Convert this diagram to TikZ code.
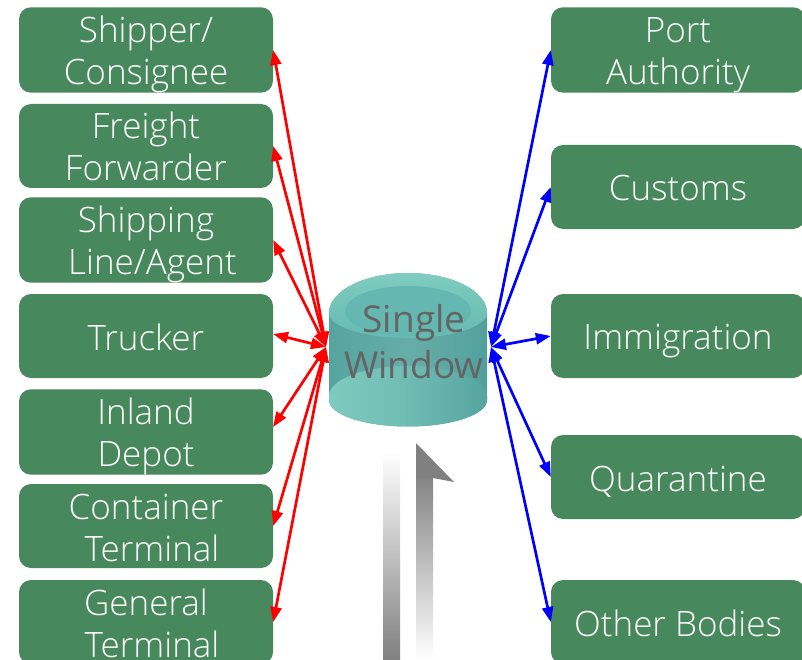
\documentclass[tikz,border=0pt]{standalone}
\usepackage{fontspec}
\setmainfont{Open Sans Light}
\newfontfamily\hubfont{Open Sans}
\usetikzlibrary{arrows.meta,shadings}
\setlength{\lineskiplimit}{-60pt}
\setlength{\normallineskiplimit}{-60pt}
\definecolor{boxgreen}{RGB}{71,136,92}
\definecolor{tealmid}{RGB}{86,164,160}
\definecolor{teallight}{RGB}{128,204,192}
\definecolor{tealdark}{RGB}{64,130,132}
\definecolor{tealtop}{RGB}{102,186,178}
\definecolor{labelgray}{RGB}{100,100,100}
\pgfdeclarehorizontalshading{cylside}{100bp}{color(0bp)=(tealmid); color(25bp)=(tealmid); color(50bp)=(tealmid!90!white); color(70bp)=(tealmid); color(100bp)=(tealdark)}
\pgfdeclarehorizontalshading{cyllip}{100bp}{color(0bp)=(tealmid); color(22bp)=(teallight); color(50bp)=(teallight!60!tealmid); color(75bp)=(tealmid); color(100bp)=(tealdark)}
\tikzset{
  x=1pt,y=-1pt,
  party/.style={fill=boxgreen,rounded corners=12pt,minimum width=254pt,minimum height=84pt,inner sep=0pt,
    text=white,align=center,font=\fontsize{35}{42}\selectfont},
  redlink/.style={draw=red,line width=2.7pt,{Triangle[length=15pt,width=11pt]}-{Triangle[length=15pt,width=11pt]}},
  bluelink/.style={redlink,draw=blue},
  hublabel/.style={text=labelgray,align=center,font=\hubfont\fontsize{37}{46}\selectfont,inner sep=0pt}
}
\newcommand{\ptop}{\rule[-7pt]{0pt}{42pt}}
\newcommand{\htop}{\rule[-10pt]{0pt}{46pt}}
\begin{document}
\begin{tikzpicture}
\useasboundingbox (0,0) rectangle (802,660);
\clip (0,0) rectangle (802,660);
% gray gradient arrows
\shade[top color=white,bottom color=black!50] (383,452) rectangle (400,660);
\shade[top color=black!50,bottom color=white] (416,470) rectangle (433,660);
\fill[black!50] (416,443) -- (454,482) -- (433,478) -- (416,478) -- cycle;
% cylinder
\path[shading=cylside] (329,313) arc[start angle=180,end angle=360,x radius=79,y radius=40]
  -- (487,400) arc[start angle=0,end angle=180,x radius=79,y radius=26.5] -- cycle;
\path[shading=cyllip] (329,396) arc[start angle=180,end angle=0,x radius=79,y radius=-30]
  -- (487,400) arc[start angle=0,end angle=180,x radius=79,y radius=26.5] -- cycle;
\shade[top color=teallight,bottom color=tealtop] (329,313) arc[start angle=180,end angle=360,x radius=79,y radius=40]
  arc[start angle=0,end angle=180,x radius=79,y radius=25] -- cycle;
\fill[tealtop!97!tealdark] (408,311) ellipse[x radius=63,y radius=25];
\node[hublabel] (hub) at (414,342) {\htop Single\\Window\htop};
\coordinate (hl) at (326,347);
\coordinate (hr) at (491,347);
% left boxes
\node[party] (a1) at (146,50) {\ptop Shipper/\\Consignee\ptop};
\node[party] (a2) at (146,146) {\ptop Freight\\Forwarder\ptop};
\node[party] (a3) at (146,240) {\ptop Shipping\\\hspace*{13pt}Line/Agent\ptop};
\node[party] (a4) at (146,336) {\ptop Trucker\ptop};
\node[party] (a5) at (146,432) {\ptop Inland\\Depot\ptop};
\node[party] (a6) at (146,526) {\ptop Container\\\hspace*{12pt}Terminal\ptop};
\node[party] (a7) at (146,622) {\ptop General\\\hspace*{12pt}Terminal\ptop};
% right boxes
\node[party] (b1) at (678,50) {\ptop Port\\Authority\ptop};
\node[party] (b2) at (678,187) {\ptop Customs\ptop};
\node[party] (b3) at (678,336) {\ptop Immigration\ptop};
\node[party] (b4) at (678,477) {\ptop Quarantine\ptop};
\node[party] (b5) at (678,622) {\ptop Other Bodies\ptop};
% connectors
\coordinate (a4t) at (273,334);
\coordinate (a5t) at (273,427);
\draw[redlink] (hl) -- (a1.east);
\draw[redlink] (hl) -- (a2.east);
\draw[redlink] (hl) -- (a3.east);
\draw[redlink] (hl) -- (a4t);
\draw[redlink] (hl) -- (a5t);
\draw[redlink] (hl) -- (a6.east);
\draw[redlink] (hl) -- (a7.east);
\foreach \n in {1,...,5} \draw[bluelink] (hr) -- (b\n.west);
\end{tikzpicture}
\end{document}
